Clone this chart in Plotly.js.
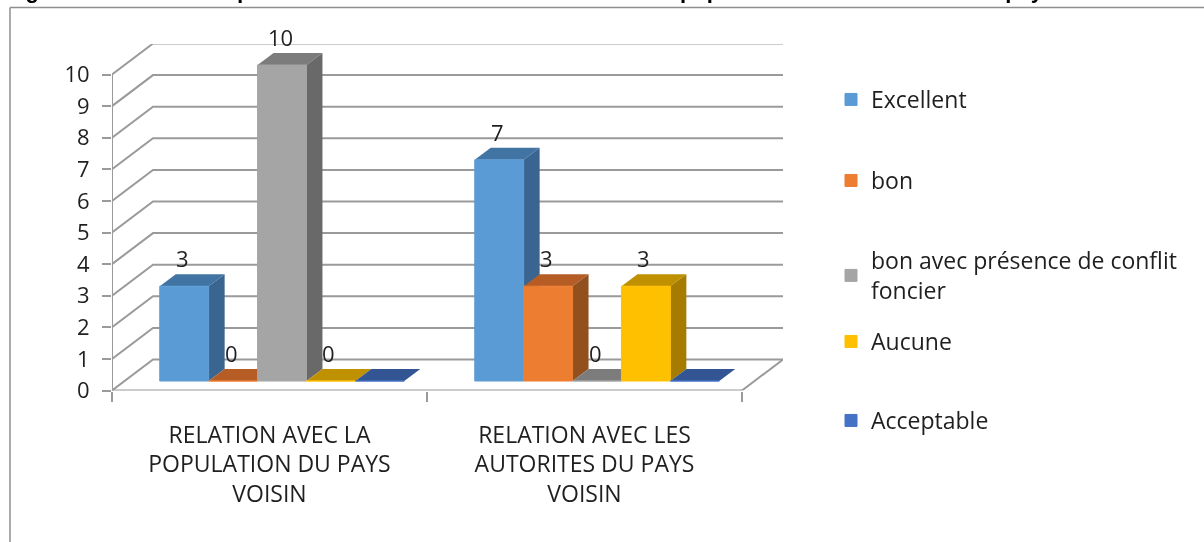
<!DOCTYPE html>
<html>
<head>
<meta charset="utf-8">
<script src="https://cdn.plot.ly/plotly-3.0.1.min.js"></script>
<style>html,body{margin:0;padding:0;background:#fff;overflow:hidden}#chart{width:1204px;height:542px;filter:blur(0.4px)}</style>
</head>
<body>
<div id="chart"></div>
<script>
// ---- Data ----
const categories = ["RELATION AVEC LA<br>POPULATION DU PAYS<br>VOISIN", "RELATION AVEC LES<br>AUTORITES DU PAYS<br>VOISIN"];
const seriesNames = ["Excellent", "bon", "bon avec présence de conflit<br>foncier", "Aucune", "Acceptable"];
const excellent = [3, 7];
const bon = [0, 3];
const bonConflit = [10, 0];
const aucune = [0, 3];
const acceptable = [0, 0];
const tickValues = [0, 1, 2, 3, 4, 5, 6, 7, 8, 9, 10];
const titleText = "Figure 5 : Etat statistique sur l'état actuel des relations entre les populations et les autorités du pays voisin frontalier";

// ---- Styles ----
const frontColors = ["#5B9BD5", "#ED7D31", "#A5A5A5", "#FFC000", "#4472C4"];
const topColors = ["#4274A3", "#B55D24", "#7C7C7C", "#BF9000", "#335593"];
const sideColors = ["#3A6591", "#92501F", "#696969", "#A67C00", "#2A4679"];
const gridColor = "#9A9A9A";
const textColor = "#1f1f1f";
const fontFamily = "'Open Sans', sans-serif";
const allSeries = [excellent, bon, bonConflit, aucune, acceptable];
const labelled = [true, true, true, true, false];
const legendTopPx = [78, 159, 239, 320, 399];

// ---- Pixel layout of the pseudo-3D box ----
const W = 1204, H = 542;
const left = 112, frontRight = 742, backRight = 783;
const y0 = 390.5, unit = 31.6, topPx = 44;
const wallDx = backRight - frontRight, wallDy = 31;
const bandPx = (frontRight - left) / categories.length;
const barPx = 48.9;
const barShiftX = 12.5, barShiftY = 9.5;
const depthDx = 16, depthDy = 12;

// Axis ranges so data units map to pixels
const xMax = -0.5 + (backRight - left) / bandPx;
const yMax = (y0 - topPx) / unit;
const dom = {
  x: [left / W, backRight / W],
  y: [1 - y0 / H, 1 - topPx / H]
};
const dxU = depthDx / bandPx, dyU = depthDy / unit;
const wdxU = wallDx / bandPx, wdyU = wallDy / unit;
const shiftXU = barShiftX / bandPx, shiftYU = barShiftY / unit;
const bw = barPx / bandPx;
const n = allSeries.length;
const bargap = 1 - n * bw;
const positions = categories.map((c, i) => i);

const traces = [];

// Back wall and floor lines, from the axis ticks
const wx = [], wy = [];
tickValues.forEach(t => {
  wx.push(-0.5, -0.5 + wdxU, xMax, null);
  wy.push(t, t + wdyU, t + wdyU, null);
});
wx.push(1.5, xMax); wy.push(0, wdyU);
traces.push({
  x: wx, y: wy, type: "scatter", mode: "lines", xaxis: "x", yaxis: "y",
  line: {color: gridColor, width: 2}, showlegend: false, hoverinfo: "skip"
});

// Depth faces for each bar (drawn under the fronts)
categories.forEach((c, i) => {
  allSeries.forEach((vals, j) => {
    const v = vals[i];
    const xl = i + (j - (n - 1) / 2) * bw - bw / 2;
    const xr = xl + bw;
    traces.push({
      x: [xl, xr, xr + dxU, xl + dxU, xl], y: [v, v, v + dyU, v + dyU, v],
      type: "scatter", mode: "lines", fill: "toself", fillcolor: topColors[j],
      line: {width: 0}, xaxis: "x2", yaxis: "y2", showlegend: false, hoverinfo: "skip"
    });
    if (v > 0) {
      traces.push({
        x: [xr, xr + dxU, xr + dxU, xr, xr], y: [0, dyU, v + dyU, v, 0],
        type: "scatter", mode: "lines", fill: "toself", fillcolor: sideColors[j],
        line: {width: 0}, xaxis: "x2", yaxis: "y2", showlegend: false, hoverinfo: "skip"
      });
    }
  });
});

// Fronts of the bars, one legend box per series
allSeries.forEach((vals, j) => {
  traces.push({
    x: positions, y: vals, name: seriesNames[j], type: "bar",
    xaxis: "x3", yaxis: "y3", legend: j === 0 ? "legend" : "legend" + (j + 1),
    marker: {color: frontColors[j], line: {color: frontColors[j], width: 1}},
    hoverinfo: "name+y"
  });
});

// Value labels
const annotations = [];
categories.forEach((c, i) => {
  allSeries.forEach((vals, j) => {
    if (!labelled[j]) return;
    annotations.push({
      x: i + (j - (n - 1) / 2) * bw, y: vals[i], xref: "x3", yref: "y3",
      text: String(vals[i]), showarrow: false, yanchor: "middle", xanchor: "center",
      xshift: -2, yshift: 28, font: {family: fontFamily, size: 22, color: textColor}
    });
  });
});
// Title, cut by the top of the picture as in the reference
annotations.push({
  x: 4 / W, y: 1 - 5 / H, xref: "paper", yref: "paper", xanchor: "left", yanchor: "bottom",
  text: "<b>" + titleText + "</b>", showarrow: false, align: "left",
  font: {family: "'Liberation Sans', Arial, sans-serif", size: 22, color: "#000"}
});

const hidden = {visible: false, fixedrange: true};
const layout = {
  width: W, height: H,
  margin: {l: 0, r: 0, t: 0, b: 0, autoexpand: false},
  paper_bgcolor: "#fff", plot_bgcolor: "rgba(0,0,0,0)",
  showlegend: true,
  barmode: "group", bargap: bargap, bargroupgap: 0,
  font: {family: fontFamily, color: textColor},
  xaxis: {
    domain: dom.x, range: [-0.5, xMax],
    tickmode: "array", tickvals: positions, ticktext: categories, ticks: "",
    ticklabelstandoff: 28,
    minor: {tickmode: "array", tickvals: [-0.5, 0.5, 1.5], ticks: "outside", ticklen: 10, tickwidth: 1.5, tickcolor: gridColor, showgrid: false},
    showline: false, showgrid: false, zeroline: false,
    tickfont: {family: fontFamily, size: 23, color: textColor}, fixedrange: true
  },
  yaxis: {
    domain: dom.y, range: [0, yMax], tickmode: "array", tickvals: tickValues,
    ticks: "outside", ticklen: 9, tickwidth: 1.5, tickcolor: gridColor,
    ticklabelstandoff: 8,
    showline: false, showgrid: false, zeroline: false,
    tickfont: {family: fontFamily, size: 22, color: textColor}, fixedrange: true
  },
  xaxis2: Object.assign({}, hidden, {domain: dom.x, anchor: "y2", range: [-0.5 - shiftXU, xMax - shiftXU]}),
  yaxis2: Object.assign({}, hidden, {domain: dom.y, anchor: "x2", range: [-shiftYU, yMax - shiftYU]}),
  xaxis3: Object.assign({}, hidden, {domain: dom.x, anchor: "y3", range: [-0.5 - shiftXU, xMax - shiftXU]}),
  yaxis3: Object.assign({}, hidden, {domain: dom.y, anchor: "x3", range: [-shiftYU, yMax - shiftYU]}),
  shapes: [
    // Chart frame
    {type: "line", xref: "paper", yref: "paper", x0: 10 / W, x1: 1, y0: 1 - 7.5 / H, y1: 1 - 7.5 / H, line: {color: "#8f8f8f", width: 1.5}},
    {type: "line", xref: "paper", yref: "paper", x0: 10 / W, x1: 10 / W, y0: 0, y1: 1 - 7.5 / H, line: {color: "#8f8f8f", width: 1.5}},
    // Front edges of the box
    {type: "line", xref: "x", yref: "y", x0: -0.5, x1: -0.5, y0: 0, y1: 10, line: {color: gridColor, width: 2}},
    {type: "line", xref: "x", yref: "y", x0: -0.5, x1: 1.5, y0: 0, y1: 0, line: {color: gridColor, width: 2}}
  ],
  annotations: annotations
};
legendTopPx.forEach((top, j) => {
  layout[j === 0 ? "legend" : "legend" + (j + 1)] = {
    x: 831 / W, y: 1 - top / H, xanchor: "left", yanchor: "top",
    itemclick: false, itemdoubleclick: false,
    font: {family: fontFamily, size: 23, color: textColor}, bgcolor: "rgba(0,0,0,0)"
  };
});

Plotly.newPlot("chart", traces, layout, {displayModeBar: false, responsive: false});
</script>
</body>
</html>
